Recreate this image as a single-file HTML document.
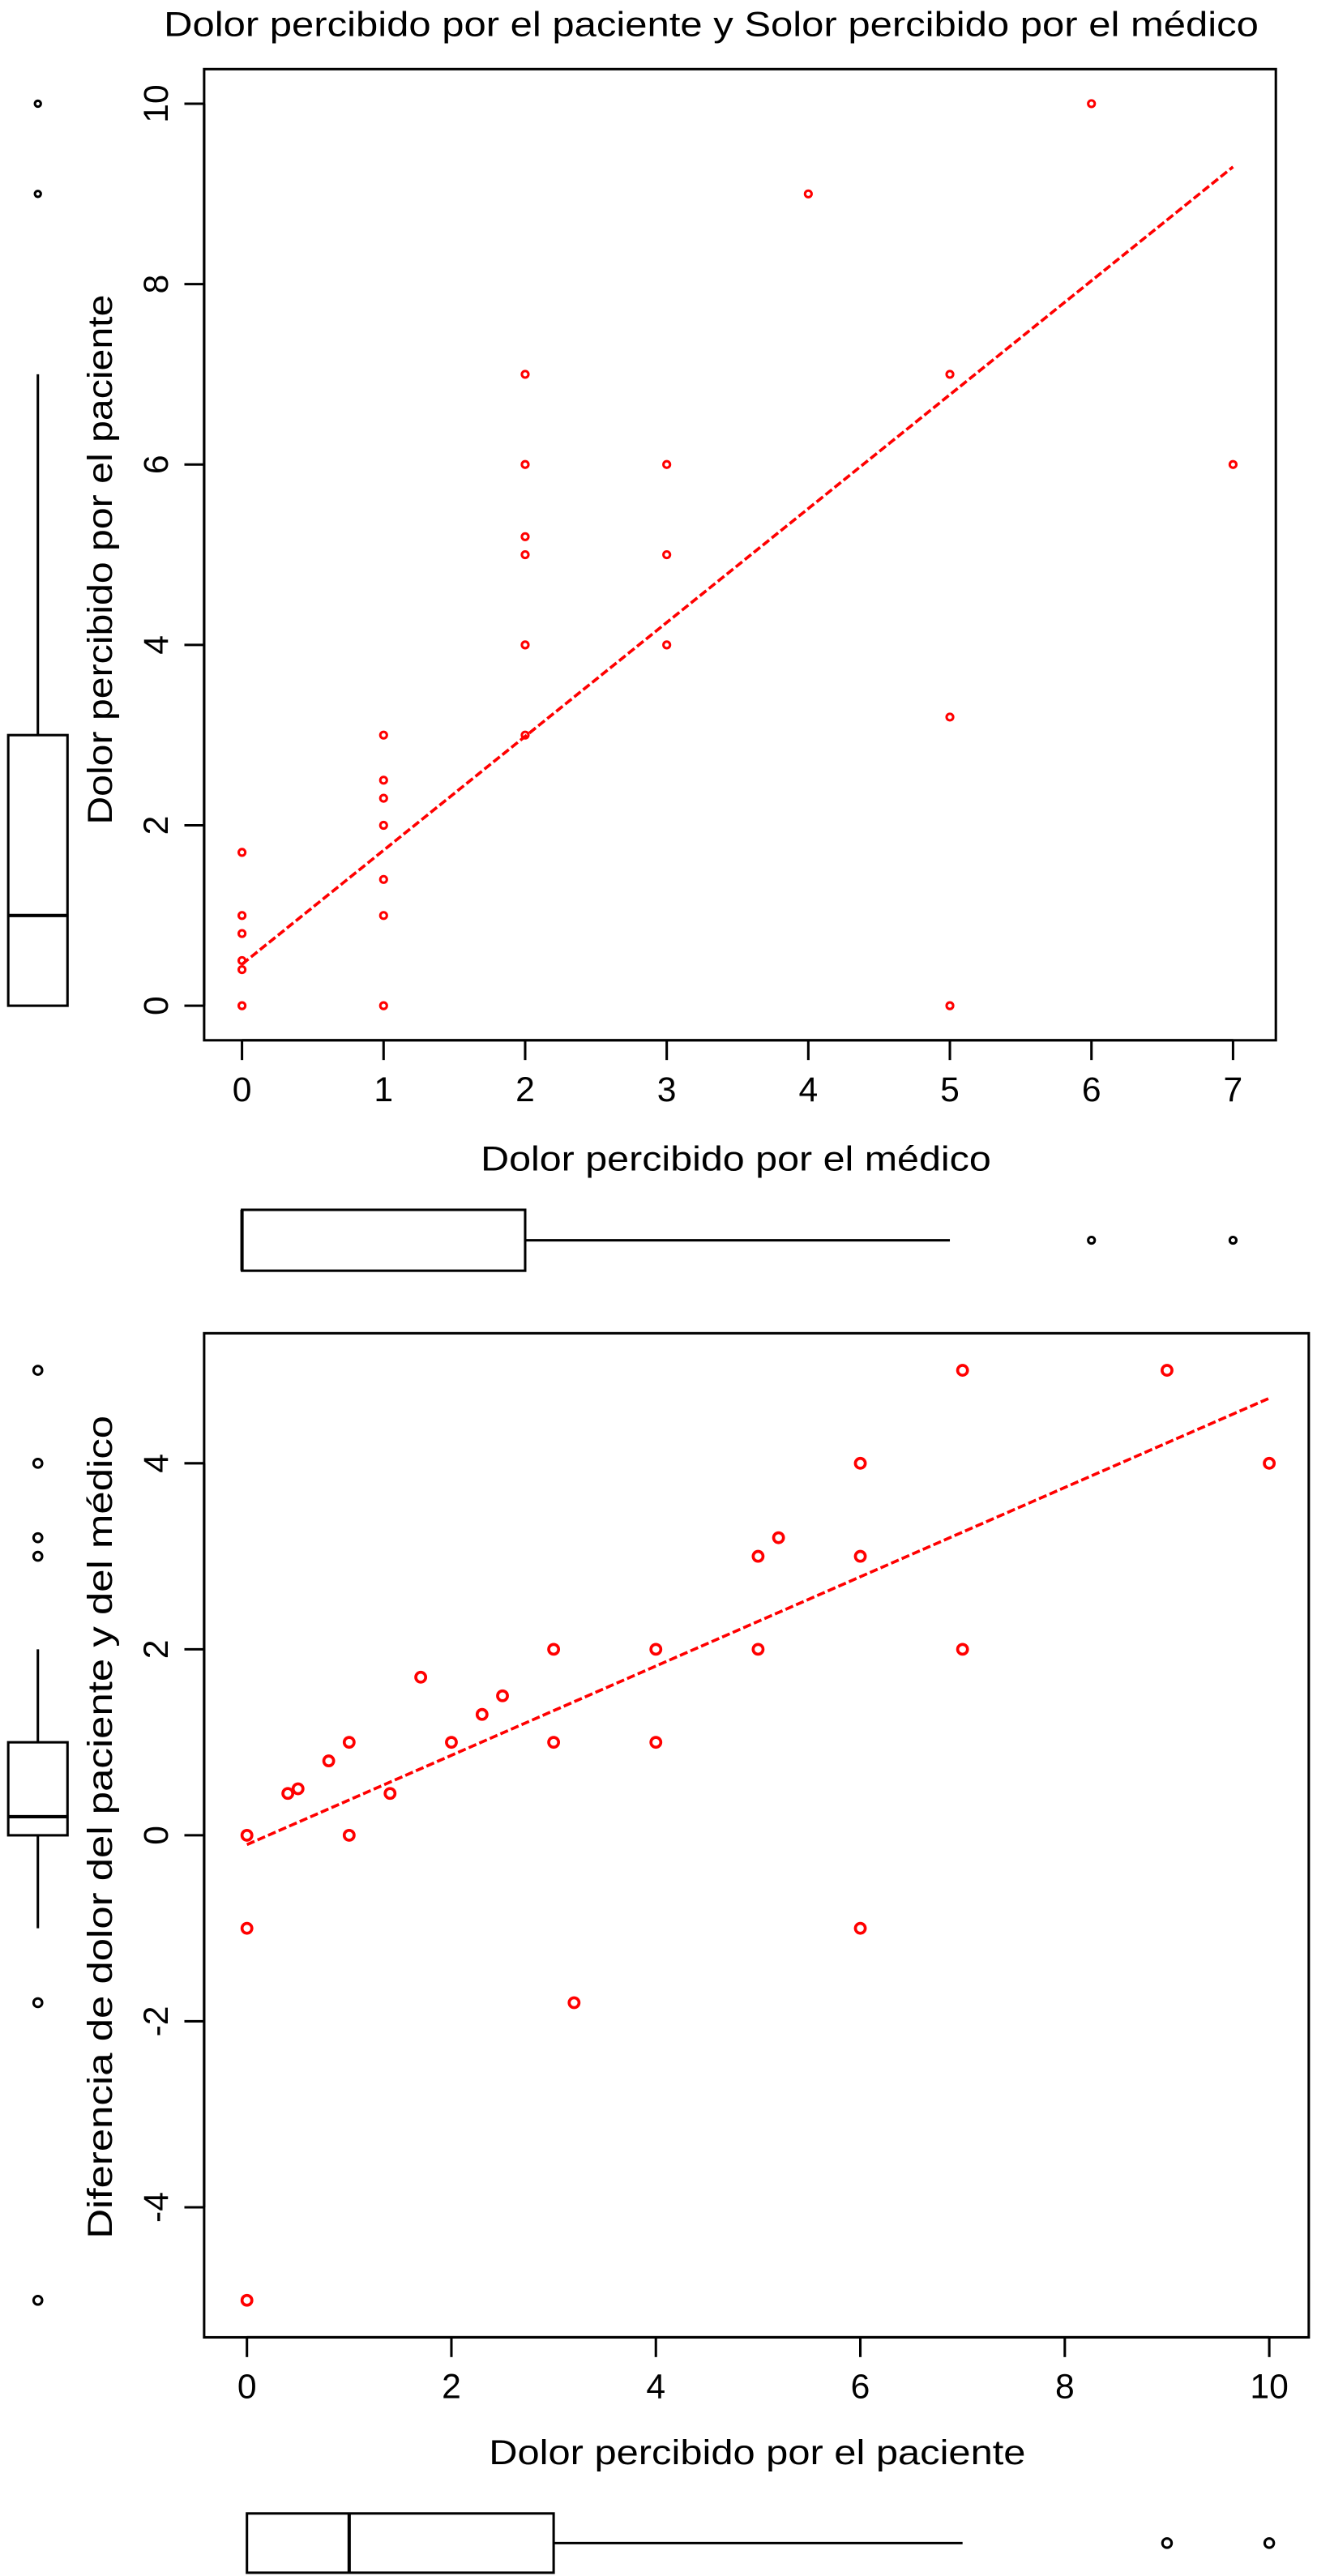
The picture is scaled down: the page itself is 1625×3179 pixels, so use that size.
<!DOCTYPE html>
<html><head><meta charset="utf-8">
<style>
html,body{margin:0;padding:0;background:#fff;}
svg{display:block;}
text{font-family:"Liberation Sans",sans-serif;fill:#000;}
</style></head>
<body>
<svg id="s" width="1625" height="3179" viewBox="0 0 800 1565" preserveAspectRatio="none" xmlns="http://www.w3.org/2000/svg">
<text x="432" y="22" font-size="21" text-anchor="middle" textLength="665" lengthAdjust="spacingAndGlyphs">Dolor percibido por el paciente y Solor percibido por el médico</text>
</svg>
<script>
// Top plot data
const medico = [0,0,0,0,0,0,1,1,1,1,1,1,1,2,2,2,2,2,2,3,3,3,4,5,5,5,6,7];
const paciente = [0,0.5,0.4,0.8,1,1.7,0,1,1.4,2,2.3,2.5,3,3,4,5,5.2,6,7,4,5,6,9,0,3.2,7,10,6];
const fit1 = [0.46, 9.3];
const xTicks1 = [0,1,2,3,4,5,6,7];
const yTicks1 = [0,2,4,6,8,10];
// Bottom plot data
const paciente2 = [0,0,0,0.4,0.5,0.8,1,1,1.4,1.7,2,2.3,2.5,3,3,3.2,4,4,5,5,5.2,6,6,6,7,7,9,10];
const diferencia = [0,-1,-5,0.45,0.5,0.8,0,1,0.45,1.7,1,1.3,1.5,1,2,-1.8,1,2,2,3,3.2,-1,3,4,2,5,5,4];
const fit2 = [-0.1, 4.7];
const xTicks2 = [0,2,4,6,8,10];
const yTicks2 = [-4,-2,0,2,4];
// Boxplot stats [min, q1, median, q3, max] and outliers
const boxMedico = [0,0,0,2,5]; const outMedico = [6,7];
const boxPac = [0,0,1,3,7]; const outPac = [9,10];
const boxPac2 = [0,0,1,3,7]; const outPac2 = [9,10];
const boxDif = [-1,0,0.2,1,2]; const outDif = [-1.8,-5,3,3.2,4,5];

const S = document.getElementById('s');
const NS = 'http://www.w3.org/2000/svg';
function el(tag, attrs, parent){const e=document.createElementNS(NS,tag);for(const k in attrs)e.setAttribute(k,attrs[k]);(parent||S).appendChild(e);return e;}

function plot(cfg){
  const g = el('g',{});
  
  
  const X = v => cfg.x0 + (v - cfg.xd[0]) * (cfg.x1 - cfg.x0) / (cfg.xd[1] - cfg.xd[0]);
  const Y = v => cfg.y0 + (v - cfg.yd[0]) * (cfg.y1 - cfg.y0) / (cfg.yd[1] - cfg.yd[0]);
  const fr = el('rect',{x:cfg.box[0],y:cfg.box[1],width:cfg.box[2]-cfg.box[0],height:cfg.box[3]-cfg.box[1],fill:'none',stroke:'#000','stroke-width':1.5},g);
  
  
  const xa = el('g',{},g);
  
  
  el('line',{x1:X(cfg.xt[0]),x2:X(cfg.xt[cfg.xt.length-1]),y1:cfg.box[3],y2:cfg.box[3],stroke:'#000','stroke-width':1.5},xa);
  cfg.xt.forEach(t=>{
    el('line',{x1:X(t),x2:X(t),y1:cfg.box[3],y2:cfg.box[3]+12,stroke:'#000','stroke-width':1.5},xa);
    const tx = el('text',{x:X(t),y:cfg.box[3]+37,'font-size':21,'text-anchor':'middle'},xa);
    tx.textContent = t;
    
    
  });
  const ya = el('g',{},g);
  
  
  el('line',{x1:cfg.box[0],x2:cfg.box[0],y1:Y(cfg.yt[0]),y2:Y(cfg.yt[cfg.yt.length-1]),stroke:'#000','stroke-width':1.5},ya);
  cfg.yt.forEach(t=>{
    el('line',{x1:cfg.box[0],x2:cfg.box[0]-12,y1:Y(t),y2:Y(t),stroke:'#000','stroke-width':1.5},ya);
    const tx = el('text',{x:0,y:0,'font-size':21,'text-anchor':'middle',transform:`translate(${cfg.box[0]-22},${Y(t)}) rotate(-90)`},ya);
    tx.textContent = t;
    
    
  });
  const xl = el('text',{x:cfg.xlX,y:cfg.xlY,'font-size':21,'text-anchor':'middle',textLength:cfg.xlLen,lengthAdjust:'spacingAndGlyphs'},g);
  xl.textContent = cfg.xlab;
  
  
  const yl = el('text',{x:0,y:0,'font-size':21,'text-anchor':'middle',textLength:cfg.ylLen,lengthAdjust:'spacingAndGlyphs',transform:`translate(${cfg.ylX},${cfg.ylY}) rotate(-90)`},g);
  yl.textContent = cfg.ylab;
  
  
  cfg.xs.forEach((v,i)=>{
    const c = el('circle',{cx:X(v),cy:Y(cfg.ys[i]),r:cfg.r,fill:'none',stroke:'#f00','stroke-width':cfg.sw},g);
    
    
  });
  const ln = el('line',{x1:X(cfg.fx[0]),y1:Y(cfg.fit[0]),x2:X(cfg.fx[1]),y2:Y(cfg.fit[1]),stroke:'#f00','stroke-width':1.8,'stroke-dasharray':'5,2'},g);
  
  
  return {X,Y};
}

function hbox(name, st, out, X, y0, y1, r){
  const g = el('g',{});
  
  
  const ym=(y0+y1)/2;
  el('rect',{x:X(st[1]),y:y0,width:X(st[3])-X(st[1]),height:y1-y0,fill:'none',stroke:'#000','stroke-width':1.5},g);
  el('line',{x1:X(st[2]),x2:X(st[2]),y1:y0,y2:y1,stroke:'#000','stroke-width':2},g);
  el('line',{x1:X(st[3]),x2:X(st[4]),y1:ym,y2:ym,stroke:'#000','stroke-width':1.5},g);
  el('line',{x1:X(st[1]),x2:X(st[0]),y1:ym,y2:ym,stroke:'#000','stroke-width':1.5},g);
  out.forEach(o=>{const c=el('circle',{cx:X(o),cy:ym,r:r,fill:'none',stroke:'#000','stroke-width':1.5},g);
    
    });
}
function vbox(name, st, out, Y, x0, x1, r){
  const g = el('g',{});
  
  
  const xm=(x0+x1)/2;
  el('rect',{x:x0,y:Y(st[3]),width:x1-x0,height:Y(st[1])-Y(st[3]),fill:'none',stroke:'#000','stroke-width':1.5},g);
  el('line',{x1:x0,x2:x1,y1:Y(st[2]),y2:Y(st[2]),stroke:'#000','stroke-width':2},g);
  el('line',{x1:xm,x2:xm,y1:Y(st[3]),y2:Y(st[4]),stroke:'#000','stroke-width':1.5},g);
  el('line',{x1:xm,x2:xm,y1:Y(st[1]),y2:Y(st[0]),stroke:'#000','stroke-width':1.5},g);
  out.forEach(o=>{const c=el('circle',{cx:xm,cy:Y(o),r:r,fill:'none',stroke:'#000','stroke-width':1.5},g);
    
    });
}

const p1 = plot({name:'top-scatter',box:[124,42,775,632],x0:147,x1:749,xd:[0,7],y0:611,y1:63,yd:[0,10],
  xt:xTicks1,yt:yTicks1,xs:medico,ys:paciente,fit:fit1,fx:[0,7],r:2,sw:1.5,
  xlab:'Dolor percibido por el médico',xlX:447,xlY:711,xlLen:310,
  ylab:'Dolor percibido por el paciente',ylX:68,ylY:340,ylLen:322});
hbox('top-x-boxplot', boxMedico, outMedico, p1.X, 735, 772, 2);
vbox('top-y-boxplot', boxPac, outPac, p1.Y, 5, 41, 1.8);

const p2 = plot({name:'bottom-scatter',box:[124,810,795,1420],x0:150,x1:771,xd:[0,10],y0:1115,y1:889,yd:[0,4],
  xt:xTicks2,yt:yTicks2,xs:paciente2,ys:diferencia,fit:fit2,fx:[0,10],r:3,sw:1.8,
  xlab:'Dolor percibido por el paciente',xlX:460,xlY:1497,xlLen:326,
  ylab:'Diferencia de dolor del paciente y del médico',ylX:68,ylY:1110,ylLen:500});
hbox('bottom-x-boxplot', boxPac2, outPac2, p2.X, 1527, 1563, 2.8);
vbox('bottom-y-boxplot', boxDif, outDif, p2.Y, 5, 41, 2.6);
</script>
</body></html>
